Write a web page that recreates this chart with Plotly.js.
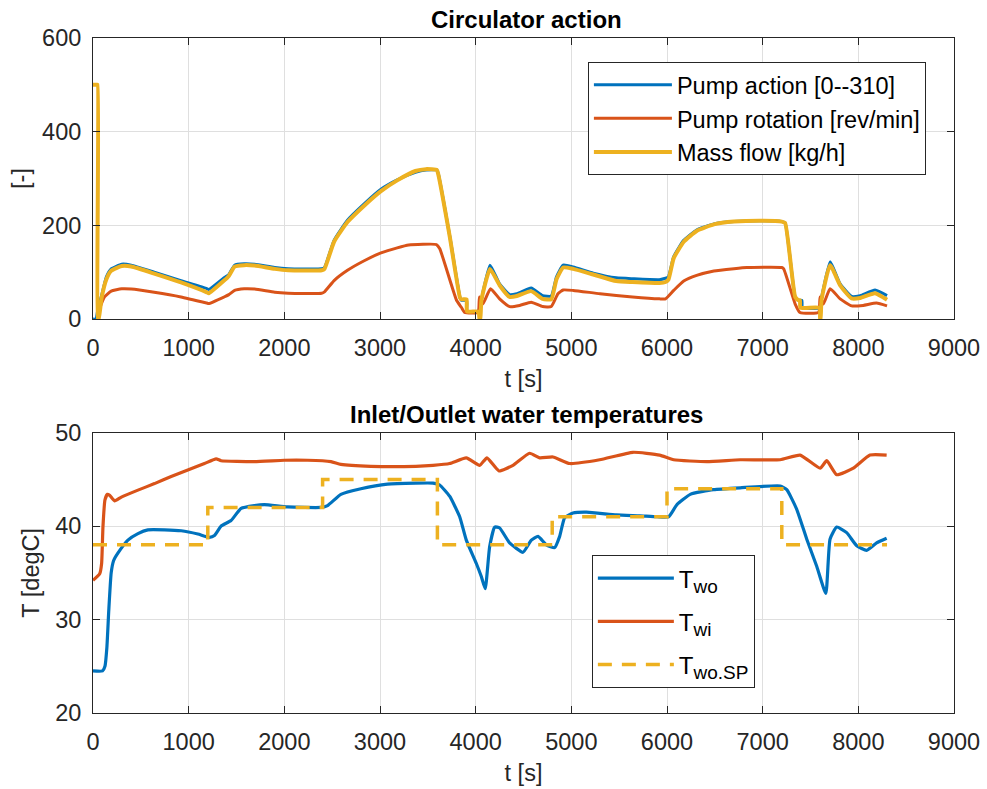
<!DOCTYPE html>
<html>
<head>
<meta charset="utf-8">
<script src="https://cdn.plot.ly/plotly-3.0.1.min.js"></script>
<style>html,body{margin:0;padding:0;background:#fff;}#plot{width:987px;height:789px;}</style>
</head>
<body>
<div id="plot"></div>
<script>
// ---------- Top panel: Circulator action ----------
const tPumpAction = [0,30,55,90,140,190,300,400,640,920,1190,1210,1370,1420,1480,1580,1690,1900,2040,2390,2420,2520,2660,2840,3010,3180,3370,3480,3595,3610,3730,3835,3850,3905,3910,4025,4045,4080,4150,4250,4355,4430,4580,4700,4790,4845,4915,5020,5230,5470,5640,5920,5985,6015,6070,6175,6310,6490,6700,7010,7200,7235,7340,7375,7410,7415,7595,7610,7705,7810,7930,8020,8175,8300];
const pumpAction  = [0,0,25,50,90,107,117,115,100,82,65,63,88,95,115,118,117,110,107.5,107.5,110,168,211,247,277,297,313,318,318,310,176,47,40,40,16,16,25,61,115,75,52,54,66,50,49,90,115,111,98,88,86,84,87,90,133,168,190,203,208,210,208,205,47,40,40,24,24,40,122,75,48,50,62,50];

const tPumpRot = [55,120,190,300,400,640,920,1190,1210,1370,1420,1480,1580,1690,1900,2040,2390,2420,2520,2660,2840,3010,3180,3300,3590,3625,3800,3850,3885,4025,4040,4075,4155,4250,4355,4460,4580,4700,4790,4860,4915,5020,5300,5640,5920,5985,6070,6175,6310,6490,6700,6835,7200,7220,7340,7390,7585,7600,7635,7705,7810,7930,8050,8190,8300];
const pumpRot  = [15,47,59.5,64.5,64,57,47,34,33,47,52,61,64.5,64,57,55,55,58,82,104,125,141,152,158,159,150,40,25,14,14,47,32,64.5,43,26.5,29,36,26.5,26.5,54,62,61,54,47,43,43,61,81,93,102.5,107.5,110,110,107,32,14,14,47,32,64.5,43,28,29,34,28];

const tMassFlow = [0,40,48,50,56,60,90,140,190,300,400,640,920,1190,1210,1370,1420,1480,1580,1690,1900,2040,2390,2420,2520,2660,2840,3010,3180,3370,3480,3595,3610,3730,3835,3850,3905,3910,4030,4040,4048,4060,4150,4250,4355,4430,4580,4700,4790,4845,4915,5020,5230,5470,5640,5920,5985,6015,6070,6175,6310,6490,6700,7010,7200,7235,7340,7375,7390,7395,7595,7600,7605,7615,7705,7810,7930,8020,8175,8300];
const massFlow  = [500,500,500,0,0,0,45,85,103,113,112,97,78,57,55,82,92,112,115,114,107,104,104,107,165,207,243,273,296,316,320,318,308,175,46,42,42,16,16,0,0,40,107,72,47,49,59.5,43,42,85,110,107,95,81,79,77,79,84,130,165,188,202,208,210,208,205,47,40,40,24,24,0,0,40,115,72,44,45,55,41];

// ---------- Bottom panel: Inlet/Outlet water temperatures ----------
const tTwo = [0,100,125,145,165,190,215,260,365,470,574,748,922,1096,1217,1270,1339,1443,1548,1687,1791,2035,2383,2452,2591,2800,3078,3374,3554,3624,3728,3833,3902,4007,4059,4100,4146,4199,4251,4355,4495,4582,4652,4739,4826,4878,4930,5017,5157,5470,5714,5896,6017,6104,6243,6487,6765,7183,7252,7356,7461,7565,7660,7704,7774,7878,7983,8087,8191,8296];
const Two  = [24.5,24.5,25,27,31,35,36.3,37.1,38.5,39.2,39.6,39.6,39.5,39.15,38.8,39,40,40.6,41.9,42.2,42.3,42.05,42,42.2,43.4,44,44.5,44.6,44.6,44.4,43.2,41,38.5,36,34.6,33.3,37.8,39.9,39.8,38.2,37.2,38.5,38.9,38,37.7,38.9,40.9,41.4,41.5,41.2,41.1,41,41,42.3,43.4,43.9,44.1,44.3,43.9,41.8,38.6,35.7,32.8,38.6,39.9,39.3,37.9,37.4,38.2,38.7];

const tTwi = [0,70,90,104,125,150,174,226,296,470,643,817,991,1165,1287,1339,1687,2000,2243,2487,2591,2904,3374,3554,3728,3902,4042,4118,4244,4390,4564,4669,4808,4983,5296,5644,5923,6070,6417,6765,7183,7391,7600,7670,7774,7948,8122,8296];
const Twi  = [34.2,34.9,36,39.9,42.8,43.4,43.3,42.7,43.1,43.85,44.55,45.3,46,46.7,47.2,47,46.9,47.05,47.05,46.9,46.6,46.4,46.4,46.5,46.7,47.3,46.5,47.3,45.9,46.5,47.8,47.3,47.4,46.7,47.1,47.9,47.6,47.1,46.9,47.1,47.1,47.6,46.2,47,45.5,46.2,47.6,47.6];

const tSP = [0,1200,2400,3600,4800,6000,7200,8300];
const TwoSP = [38,42,45,38,41,44,38,38];

const legendTop = ['Pump action [0--310]','Pump rotation [rev/min]','Mass flow [kg/h]'];
const legendBot = ['T<sub><span style="font-size:19px">wo</span></sub>','T<sub><span style="font-size:19px">wi</span></sub>','T<sub><span style="font-size:19px">wo.SP</span></sub>'];

const C_BLUE = '#0072BD', C_RED = '#D95319', C_YEL = '#EDB120';
const FONT = 'Liberation Sans, Arial, Helvetica, sans-serif';
const AXC = '#262626';
const SM = 0.45;

const traces = [
  {x:tPumpAction, y:pumpAction, name:legendTop[0], mode:'lines', line:{color:C_BLUE,width:3,shape:'spline',smoothing:SM}, xaxis:'x', yaxis:'y', legend:'legend'},
  {x:tPumpRot, y:pumpRot, name:legendTop[1], mode:'lines', line:{color:C_RED,width:3,shape:'spline',smoothing:SM}, xaxis:'x', yaxis:'y', legend:'legend'},
  {x:tMassFlow, y:massFlow, name:legendTop[2], mode:'lines', line:{color:C_YEL,width:4,shape:'spline',smoothing:SM}, xaxis:'x', yaxis:'y', legend:'legend'},
  {x:tTwo, y:Two, name:legendBot[0], mode:'lines', line:{color:C_BLUE,width:3.2,shape:'spline',smoothing:SM}, xaxis:'x2', yaxis:'y2', legend:'legend2', legendgroup:'a'},
  {x:tTwi, y:Twi, name:legendBot[1], mode:'lines', line:{color:C_RED,width:3.2,shape:'spline',smoothing:SM}, xaxis:'x2', yaxis:'y2', legend:'legend2', legendgroup:'b'},
  {x:tSP, y:TwoSP, name:legendBot[2], mode:'lines', line:{color:C_YEL,width:3.5,dash:'14px,10px',shape:'hv'}, xaxis:'x2', yaxis:'y2', legend:'legend2', legendgroup:'c'}
];

function xax(anchor){
  return {anchor:anchor, domain:[0,1], range:[0,9000], dtick:1000, tick0:0,
    showgrid:true, gridcolor:'#dfdfdf', gridwidth:1, zeroline:false,
    ticks:'inside', ticklen:7, tickwidth:1, tickcolor:AXC,
    showline:true, linecolor:AXC, linewidth:1, mirror:'ticks',
    tickfont:{family:FONT,size:23.5,color:AXC}, ticklabelstandoff:8,
    title:{text:'t [s]', font:{family:FONT,size:23.5,color:AXC}, standoff:10}};
}
function yax(anchor, domain, range, dtick, title, so){
  return {anchor:anchor, domain:domain, range:range, dtick:dtick,
    showgrid:true, gridcolor:'#dfdfdf', gridwidth:1, zeroline:false,
    ticks:'inside', ticklen:7, tickwidth:1, tickcolor:AXC,
    showline:true, linecolor:AXC, linewidth:1, mirror:'ticks',
    tickfont:{family:FONT,size:23.5,color:AXC}, ticklabelstandoff:6,
    title:{text:title, font:{family:FONT,size:23.5,color:AXC}, standoff:so}};
}

const layout = {
  width:987, height:789, paper_bgcolor:'#fff', plot_bgcolor:'#fff',
  margin:{l:93, r:33, t:38, b:76},
  font:{family:FONT, color:AXC},
  showlegend:true,
  xaxis: xax('y'),
  yaxis: yax('x', [0.5837,1], [0,600], 200, '[-]', 5),
  xaxis2: xax('y2'),
  yaxis2: yax('x2', [0,0.4153], [20,50], 10, 'T [degC]', 8),
  legend:{x:0.5748, y:0.9644, xanchor:'left', yanchor:'top', bgcolor:'#fff', bordercolor:AXC, borderwidth:1,
          font:{family:FONT,size:23.5,color:'#000'}, itemwidth:78, tracegroupgap:0},
  legend2:{x:0.5794, y:0.234, xanchor:'left', yanchor:'top', bgcolor:'#fff', bordercolor:AXC, borderwidth:1,
          font:{family:FONT,size:24,color:'#000'}, itemwidth:76, tracegroupgap:9},
  annotations:[
    {text:'<b>Circulator action</b>', xref:'paper', yref:'paper', x:0.503, y:1.0267, xanchor:'center', yanchor:'middle', showarrow:false, font:{family:FONT,size:24,color:'#000'}},
    {text:'<b>Inlet/Outlet water temperatures</b>', xref:'paper', yref:'paper', x:0.503, y:0.4415, xanchor:'center', yanchor:'middle', showarrow:false, font:{family:FONT,size:24,color:'#000'}}
  ]
};

Plotly.newPlot('plot', traces, layout, {displayModeBar:false, staticPlot:true});
</script>
</body>
</html>
